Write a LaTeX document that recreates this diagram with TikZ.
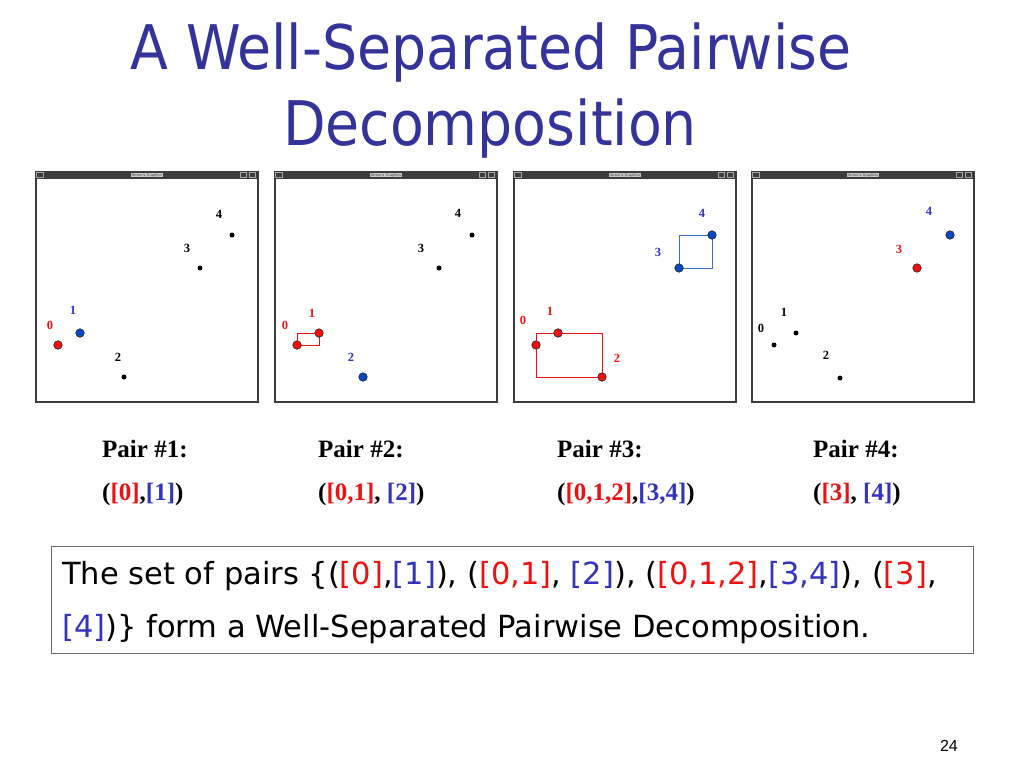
\documentclass[tikz,border=0pt]{standalone}
\usepackage{fontspec}
\setmainfont{Liberation Serif}
\newfontfamily\titlefont{DejaVu Sans Condensed}
\newfontfamily\boxfont{DejaVu Sans}
\newfontfamily\pagefont{Liberation Sans}
\usetikzlibrary{calc}
\definecolor{titleblue}{HTML}{333399}
\definecolor{pred}{HTML}{EE1111}
\definecolor{pblue}{HTML}{3333BB}
\definecolor{dotblue}{HTML}{0A48C0}
\definecolor{dotred}{HTML}{F01010}
\definecolor{wingray}{HTML}{3C3C3C}
\newcommand\winframe[2]{%
  \node[win, anchor=north west, minimum width=222pt, minimum height=230pt] (#1) at (#2,171) {};
  \fill[wingray] (#1.north west) rectangle ($(#1.north east)+(0,8)$);
  \node[font=\sffamily\fontsize{4}{4}\selectfont, fill=gray!45, inner sep=0.6pt, text=black!75] (#1t) at ($(#1.north)+(0,4)$) {Anton's Graphics};
  \draw[gray!70, line width=0.5pt] ($(#1.north west)+(1.5,1.5)$) rectangle ++(7,5);
  \draw[gray!70, line width=0.5pt] ($(#1.north east)+(-18,1.5)$) rectangle ++(6,5);
  \draw[gray!70, line width=0.5pt] ($(#1.north east)+(-9,1.5)$) rectangle ++(6,5);
}
\begin{document}
\begin{tikzpicture}[x=1pt,y=-1pt,
  bigdot/.style={circle,draw=black!85,line width=0.6pt,minimum size=8.5pt,inner sep=0pt},
  reddot/.style={bigdot,fill=dotred},
  bluedot/.style={bigdot,fill=dotblue},
  smalldot/.style={circle,fill=black,minimum size=5pt,inner sep=0pt},
  lab/.style={font=\bfseries\fontsize{12.5}{12.5}\selectfont,inner sep=0pt},
  redlab/.style={lab,text=pred},
  bluelab/.style={lab,text=pblue},
  blacklab/.style={lab,text=black},
  win/.style={draw=wingray,line width=1.6pt,fill=white,inner sep=0pt},
  redbox/.style={draw=dotred,line width=0.9pt},
  bluebox/.style={draw=dotblue!80,line width=0.9pt},
  pairhead/.style={anchor=base west,font=\bfseries\fontsize{25}{25}\selectfont,inner sep=0pt},
  boxtext/.style={anchor=base west,font=\boxfont\fontsize{30.5}{30.5}\selectfont,inner sep=0pt},
]
\useasboundingbox[fill=white] (0,0) rectangle (1024,768);

% title
\node[font=\titlefont\fontsize{61.5}{61.5}\selectfont, text=titleblue, anchor=base, inner sep=0pt] (t1) at (491,70) {A Well-Separated Pairwise};
\node[font=\titlefont\fontsize{61.5}{61.5}\selectfont, text=titleblue, anchor=base, inner sep=0pt] (t2) at (490,145) {Decomposition};

% windows
\winframe{w1}{35}
\winframe{w2}{274}
\winframe{w3}{513}
\winframe{w4}{751}

% panel 1
\begin{scope}[shift={(35,0)}]
  \node[reddot] (a0) at (23,345) {};
  \node[bluedot] (a1) at (45,333) {};
  \node[smalldot] (a2) at (89,377) {};
  \node[smalldot] (a3) at (165,268) {};
  \node[smalldot] (a4) at (197,235) {};
  \node[redlab] (la0) at (15,325) {0};
  \node[bluelab] (la1) at (38,310) {1};
  \node[blacklab] (la2) at (83,357) {2};
  \node[blacklab] (la3) at (152,248) {3};
  \node[blacklab] (la4) at (184,214) {4};
\end{scope}

% panel 2
\begin{scope}[shift={(274,0)}]
  \coordinate (b0c) at (23,345);
  \coordinate (b1c) at (45,333);
  \draw[redbox] (b0c |- b1c) rectangle (b1c |- b0c);
  \node[reddot] (b0) at (b0c) {};
  \node[reddot] (b1) at (b1c) {};
  \node[bluedot] (b2) at (89,377) {};
  \node[smalldot] (b3) at (165,268) {};
  \node[smalldot] (b4) at (198,235) {};
  \node[redlab] (lb0) at (11,325) {0};
  \node[redlab] (lb1) at (38,313) {1};
  \node[bluelab] (lb2) at (77,357) {2};
  \node[blacklab] (lb3) at (147,248) {3};
  \node[blacklab] (lb4) at (184,213) {4};
\end{scope}

% panel 3
\begin{scope}[shift={(513,0)}]
  \coordinate (c0c) at (23,345);
  \coordinate (c1c) at (45,333);
  \coordinate (c2c) at (89,377);
  \coordinate (c3c) at (166,268);
  \coordinate (c4c) at (199,235);
  \draw[redbox] (c0c |- c1c) rectangle (c2c);
  \draw[bluebox] (c3c |- c4c) rectangle (c4c |- c3c);
  \node[reddot] (c0) at (c0c) {};
  \node[reddot] (c1) at (c1c) {};
  \node[reddot] (c2) at (c2c) {};
  \node[bluedot] (c3) at (c3c) {};
  \node[bluedot] (c4) at (c4c) {};
  \node[redlab] (lc0) at (10,320) {0};
  \node[redlab] (lc1) at (37,311) {1};
  \node[redlab] (lc2) at (104,358) {2};
  \node[bluelab] (lc3) at (145,252) {3};
  \node[bluelab] (lc4) at (189,213) {4};
\end{scope}

% panel 4
\begin{scope}[shift={(751,0)}]
  \node[smalldot] (d0) at (23,345) {};
  \node[smalldot] (d1) at (45,333) {};
  \node[smalldot] (d2) at (89,378) {};
  \node[reddot] (d3) at (166,268) {};
  \node[bluedot] (d4) at (199,235) {};
  \node[blacklab] (ld0) at (10,328) {0};
  \node[blacklab] (ld1) at (33,312) {1};
  \node[blacklab] (ld2) at (75,355) {2};
  \node[redlab] (ld3) at (148,249) {3};
  \node[bluelab] (ld4) at (178,211) {4};
\end{scope}

% pair captions
\node[pairhead] (p1) at (102,457) {Pair \#1:};
\node[pairhead] (s1) at (102,500) {(\textcolor{pred}{[0]},\textcolor{pblue}{[1]})};
\node[pairhead] (p2) at (318,457) {Pair \#2:};
\node[pairhead] (s2) at (318,500) {(\textcolor{pred}{[0,1]}, \textcolor{pblue}{[2]})};
\node[pairhead] (p3) at (557,457) {Pair \#3:};
\node[pairhead] (s3) at (557,500) {(\textcolor{pred}{[0,1,2]},\textcolor{pblue}{[3,4]})};
\node[pairhead] (p4) at (813,457) {Pair \#4:};
\node[pairhead] (s4) at (813,500) {(\textcolor{pred}{[3]}, \textcolor{pblue}{[4]})};

% summary box
\node[draw=black!60, line width=1pt, fill=white, anchor=north west, minimum width=922pt, minimum height=107pt, inner sep=0pt] (box) at (51,546) {};
\node[boxtext] (bl1) at (62,584) {The set of pairs \{(\textcolor{pred}{[0]},\textcolor{pblue}{[1]}), (\textcolor{pred}{[0,1]}, \textcolor{pblue}{[2]}), (\textcolor{pred}{[0,1,2]},\textcolor{pblue}{[3,4]}), (\textcolor{pred}{[3]},};
\node[boxtext] (bl2) at (62,637) {\textcolor{pblue}{[4]})\} form a Well-Separated Pairwise Decomposition.};

% page number
\node[anchor=base east, font=\pagefont\fontsize{16}{16}\selectfont, inner sep=0pt] (pg) at (958,751) {24};
\end{tikzpicture}
\end{document}
